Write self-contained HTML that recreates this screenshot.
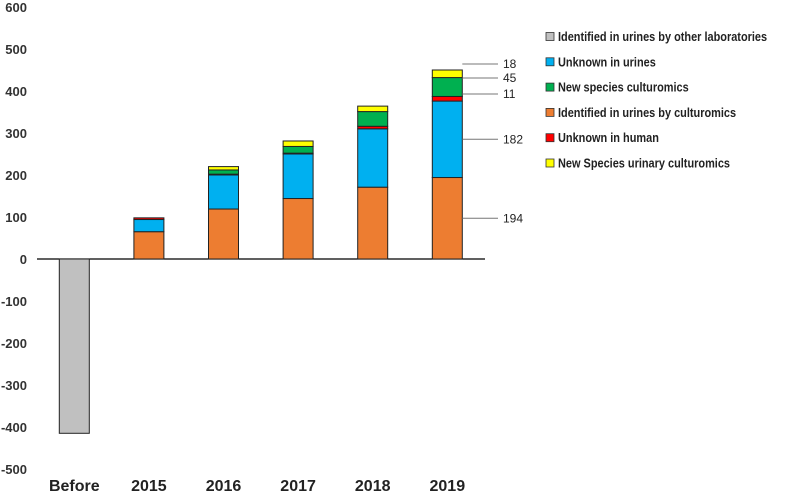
<!DOCTYPE html>
<html><head><meta charset="utf-8"><style>
body{margin:0;background:#fff}
svg{display:block;font-family:"Liberation Sans",Arial,sans-serif}
</style></head><body>
<svg id="c" width="793" height="501" viewBox="0 0 793 501"></svg>
<script>
const categories=["Before","2015","2016","2017","2018","2019"];
const grey=[-415,0,0,0,0,0];
const orange=[0,65,119,144,171,194];
const blue=[0,29,81,106,139,182];
const red=[0,4,2,2,6,11];
const green=[0,0,10,16,35,45];
const yellow=[0,0,8,13,13,18];
const yTicks=[600,500,400,300,200,100,0,-100,-200,-300,-400,-500];
const annotValues=[194,182,11,45,18];
const legendLabels=["Identified in urines by other laboratories","Unknown in urines","New species culturomics","Identified in urines by culturomics","Unknown in human","New Species urinary culturomics"];
const legendColors=["#c0c0c0","#00b0f0","#00b050","#ed7d31","#ff0000","#ffff00"];

const NS="http://www.w3.org/2000/svg";
const svg=document.getElementById('c');
const x0=37,bandW=74.6,barW=30;
function y(v){return 259-v*0.42;}
function xc(i){return x0+bandW*(i+0.5);}
function mk(t,a,p){const e=document.createElementNS(NS,t);for(const k in a)e.setAttribute(k,a[k]);(p||svg).appendChild(e);return e;}

yTicks.forEach(t=>{
  const e=mk('text',{x:27,y:y(t)+5,'text-anchor':'end','font-size':13,'font-weight':'bold',fill:'#333'});
  e.textContent=t;
  
  
});
const ax=mk('line',{x1:x0,x2:485,y1:y(0),y2:y(0),stroke:'#000','stroke-width':1.3});



const series=[[orange,"#ed7d31"],[blue,"#00b0f0"],[red,"#ff0000"],[green,"#00b050"],[yellow,"#ffff00"]];
categories.forEach((c,i)=>{
  const cx=xc(i);
  if(grey[i]!==0){
    const r=mk('rect',{x:cx-barW/2,y:y(0),width:barW,height:y(grey[i])-y(0),fill:'#c0c0c0',stroke:'#222','stroke-width':1});
    
    
  }
  let base=0;
  series.forEach(([arr,col])=>{
    const v=arr[i];if(!v)return;
    const r=mk('rect',{x:cx-barW/2,y:y(base+v),width:barW,height:y(base)-y(base+v),fill:col,stroke:'#222','stroke-width':1});
    
    
    base+=v;
  });
  const t=mk('text',{x:cx,y:491,'text-anchor':'middle','font-size':16,'font-weight':'bold',fill:'#222'});
  t.textContent=c;
  
  
});

const li=5;const segs=[orange,blue,red,green,yellow];
let b=0;const labelY=[225,139,98,82,68];
segs.forEach((arr,k)=>{
  const mid=b+arr[li]/2;b+=arr[li];
  const ly=k<2?y(mid):labelY[k]-4;
  const l=mk('line',{x1:xc(li)+barW/2,x2:498,y1:ly,y2:ly,stroke:'#777','stroke-width':1});
  
  
  const t=mk('text',{x:503,y:ly+4,'font-size':12,fill:'#222'});
  t.textContent=annotValues[k];
  
  
});

legendLabels.forEach((lab,k)=>{
  const cy=36.5+k*25.3;
  const g=mk('g',{});
  
  
  mk('rect',{x:546,y:cy-4,width:8,height:8,fill:legendColors[k],stroke:'#333','stroke-width':0.8},g);
  const t=mk('text',{x:558,y:cy+4.5,'font-size':12.5,'font-weight':'bold',fill:'#222'},g);
  t.textContent=lab;
  const w=t.getComputedTextLength();
  t.setAttribute('textLength',(w*0.875).toFixed(1));
  t.setAttribute('lengthAdjust','spacingAndGlyphs');
});
</script>
</body></html>
